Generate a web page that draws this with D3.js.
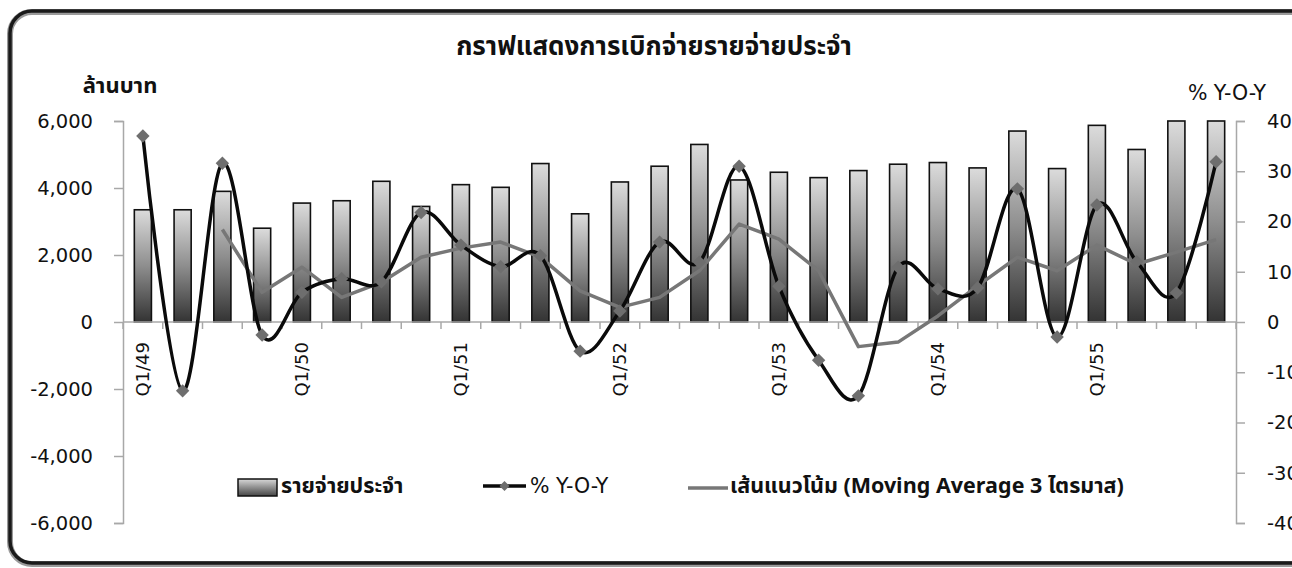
<!DOCTYPE html>
<html>
<head>
<meta charset="utf-8">
<script src="https://cdn.jsdelivr.net/npm/d3@7/dist/d3.min.js"></script>
<style>
html,body{margin:0;padding:0;background:#fff;overflow:hidden;}
svg{display:block;}
text{font-family:"DejaVu Sans",Verdana,sans-serif;fill:#111;}
.thai{font-family:Tahoma,"Noto Sans Thai","Noto Sans","DejaVu Sans",sans-serif;}
</style>
</head>
<body>
<svg id="chart" width="1292" height="568"></svg>
<script>
// ---- data ----
const categories = ["Q1/49","Q2/49","Q3/49","Q4/49","Q1/50","Q2/50","Q3/50","Q4/50",
  "Q1/51","Q2/51","Q3/51","Q4/51","Q1/52","Q2/52","Q3/52","Q4/52",
  "Q1/53","Q2/53","Q3/53","Q4/53","Q1/54","Q2/54","Q3/54","Q4/54",
  "Q1/55","Q2/55","Q3/55","Q4/55"];
const spending = [3350,3350,3900,2800,3550,3620,4200,3450,
  4100,4020,4730,3230,4180,4650,5300,4240,
  4470,4310,4520,4710,4760,4600,5700,4580,
  5870,5150,6000,6000];
const yoy = [37.0,-13.7,31.6,-2.6,5.9,8.6,8.0,21.8,
  15.3,11.0,13.2,-5.8,2.2,15.9,11.9,31.0,
  7.1,-7.6,-14.7,10.9,6.6,6.8,26.5,-3.0,
  23.3,12.0,5.8,31.9];
const movingAvg = [null,null,18.4,5.9,10.9,4.9,7.9,12.9,
  14.7,15.9,12.9,6.2,2.9,4.9,10.2,19.5,
  16.5,10.2,-4.9,-4.0,1.2,7.2,12.9,10.2,
  15.3,11.5,13.9,16.4];
const leftTicks = [-6000,-4000,-2000,0,2000,4000,6000];
const leftTickLabels = ["-6,000","-4,000","-2,000","0","2,000","4,000","6,000"];
const rightTicks = [-40,-30,-20,-10,0,10,20,30,40];
const rightTickLabels = ["-40","-30","-20","-10","0","10","20","30","40"];
const labeledCategories = ["Q1/49","Q1/50","Q1/51","Q1/52","Q1/53","Q1/54","Q1/55"];
const titleText = "กราฟแสดงการเบิกจ่ายรายจ่ายประจำ";
const leftUnit = "ล้านบาท";
const rightUnit = "% Y-O-Y";
const legendLabels = ["รายจ่ายประจำ","% Y-O-Y","เส้นแนวโน้ม (Moving Average 3 ไตรมาส)"];

// ---- layout ----
const svg = d3.select("#chart");
const L = 123, R = 1236, T = 121, B = 523;

const x = d3.scaleBand().domain(categories).range([L, R]).paddingInner(0.57).paddingOuter(0.285);
const yL = d3.scaleLinear().domain([-6000, 6000]).range([B, T]);
const yR = d3.scaleLinear().domain([-40, 40]).range([B, T]);
const cx = d => x(d) + x.bandwidth() / 2;

// frame
svg.append("rect").attr("x", 10).attr("y", 12).attr("width", 1330).attr("height", 552)
  .attr("rx", 22).attr("fill", "none").attr("stroke", "#9a9a9a").attr("stroke-width", 6);
svg.append("rect").attr("x", 10).attr("y", 11).attr("width", 1330).attr("height", 552)
  .attr("rx", 22).attr("fill", "none").attr("stroke", "#1a1a1a").attr("stroke-width", 3.5);

// gradient
const defs = svg.append("defs");
const grad = defs.append("linearGradient").attr("id", "barGrad")
  .attr("x1", 0).attr("y1", 0).attr("x2", 0).attr("y2", 1);
grad.append("stop").attr("offset", "0%").attr("stop-color", "#dcdcdc");
grad.append("stop").attr("offset", "50%").attr("stop-color", "#8e8e8e");
grad.append("stop").attr("offset", "100%").attr("stop-color", "#333333");
const lgrad = defs.append("linearGradient").attr("id", "legGrad")
  .attr("x1", 0).attr("y1", 0).attr("x2", 0).attr("y2", 1);
lgrad.append("stop").attr("offset", "0%").attr("stop-color", "#d8d8d8");
lgrad.append("stop").attr("offset", "100%").attr("stop-color", "#444");

// title
svg.append("text").attr("class", "thai").attr("x", 654).attr("y", 55)
  .attr("text-anchor", "middle").attr("font-size", 26).attr("font-weight", "bold")
  .text(titleText);
svg.append("text").attr("class", "thai").attr("x", 120).attr("y", 93)
  .attr("text-anchor", "middle").attr("font-size", 22).attr("font-weight", "bold")
  .text(leftUnit);
svg.append("text").attr("x", 1227).attr("y", 100)
  .attr("text-anchor", "middle").attr("font-size", 20.5)
  .text(rightUnit);

// left axis
const axL = svg.append("g").attr("transform", `translate(${L},0)`)
  .call(d3.axisLeft(yL).tickValues(leftTicks).tickSize(9).tickPadding(21)
    .tickFormat((d, i) => leftTickLabels[i]));
axL.select(".domain").attr("stroke", "#a8a8a8").attr("stroke-width", 1.5);
axL.selectAll(".tick line").attr("stroke", "#a8a8a8").attr("stroke-width", 1.5);
axL.selectAll(".tick text").attr("font-size", 19.5).attr("font-family", "DejaVu Sans").attr("fill", "#111");

// right axis
const axR = svg.append("g").attr("transform", `translate(${R},0)`)
  .call(d3.axisRight(yR).tickValues(rightTicks).tickSize(9).tickPadding(22)
    .tickFormat((d, i) => rightTickLabels[i]));
axR.select(".domain").attr("stroke", "#a8a8a8").attr("stroke-width", 1.5);
axR.selectAll(".tick line").attr("stroke", "#a8a8a8").attr("stroke-width", 1.5);
axR.selectAll(".tick text").attr("font-size", 19.5).attr("font-family", "DejaVu Sans").attr("fill", "#111");

// bars
svg.append("g").selectAll("rect").data(categories).join("rect")
  .attr("x", d => x(d))
  .attr("y", (d, i) => yL(spending[i]))
  .attr("width", x.bandwidth())
  .attr("height", (d, i) => yL(0) - yL(spending[i]))
  .attr("fill", "url(#barGrad)")
  .attr("stroke", "#111").attr("stroke-width", 1.6);

// x axis (at zero)
const y0 = yL(0);
svg.append("line").attr("x1", L).attr("x2", R).attr("y1", y0).attr("y2", y0)
  .attr("stroke", "#a8a8a8").attr("stroke-width", 1.5);
const step = x.step();
svg.append("g").selectAll("line").data(d3.range(categories.length + 1)).join("line")
  .attr("x1", i => L + i * step).attr("x2", i => L + i * step)
  .attr("y1", y0).attr("y2", y0 + 7)
  .attr("stroke", "#a8a8a8").attr("stroke-width", 1.5);
svg.append("g").selectAll("text").data(labeledCategories).join("text")
  .attr("transform", d => `translate(${cx(d)},${y0 + 20}) rotate(-90)`)
  .attr("text-anchor", "end").attr("dominant-baseline", "central")
  .attr("font-size", 18).text(d => d);

// moving average line
const maData = categories.map((c, i) => ({c, v: movingAvg[i]})).filter(d => d.v !== null);
svg.append("path").datum(maData)
  .attr("d", d3.line().x(d => cx(d.c)).y(d => yR(d.v)))
  .attr("fill", "none").attr("stroke", "#777").attr("stroke-width", 3.5)
  .attr("stroke-linejoin", "round");

// yoy smooth line
const yoyData = categories.map((c, i) => ({c, v: yoy[i]}));
svg.append("path").datum(yoyData)
  .attr("d", d3.line().x(d => cx(d.c)).y(d => yR(d.v)).curve(d3.curveCardinal.tension(0)))
  .attr("fill", "none").attr("stroke", "#0a0a0a").attr("stroke-width", 3.5);

// markers
const diamond = d3.symbol().type(d3.symbolSquare).size(90);
svg.append("g").selectAll("path").data(yoyData).join("path")
  .attr("d", diamond)
  .attr("transform", d => `translate(${cx(d.c)},${yR(d.v)}) rotate(45)`)
  .attr("fill", "#6e6e6e");

// legend
const ly = 486;
svg.append("rect").attr("x", 238).attr("y", 479).attr("width", 39).attr("height", 17)
  .attr("fill", "url(#legGrad)").attr("stroke", "#111").attr("stroke-width", 1.5);
svg.append("text").attr("class", "thai").attr("x", 281).attr("y", ly).attr("dominant-baseline", "central")
  .attr("font-size", 21.5).attr("font-weight", "bold").text(legendLabels[0]);

svg.append("line").attr("x1", 483).attr("x2", 526).attr("y1", ly).attr("y2", ly)
  .attr("stroke", "#0a0a0a").attr("stroke-width", 3.5);
svg.append("path").attr("d", d3.symbol().type(d3.symbolSquare).size(50))
  .attr("transform", `translate(504.5,${ly}) rotate(45)`).attr("fill", "#6e6e6e");
svg.append("text").attr("x", 530).attr("y", ly).attr("dominant-baseline", "central")
  .attr("font-size", 20.5).text(legendLabels[1]);

svg.append("line").attr("x1", 688).attr("x2", 728).attr("y1", ly + 2).attr("y2", ly + 2)
  .attr("stroke", "#777").attr("stroke-width", 3.5);
svg.append("text").attr("class", "thai").attr("x", 730).attr("y", ly).attr("dominant-baseline", "central")
  .attr("font-size", 21.5).attr("font-weight", "bold").text(legendLabels[2]);
</script>
</body>
</html>
